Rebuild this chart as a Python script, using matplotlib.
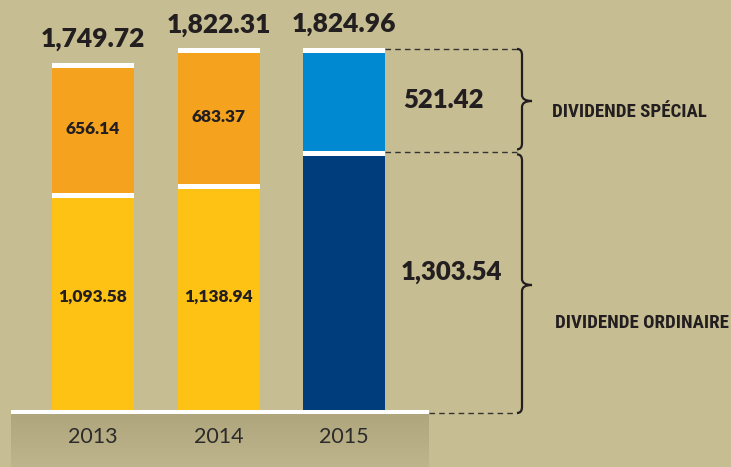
import numpy as np
import matplotlib
matplotlib.use("Agg")
import matplotlib.pyplot as plt
from matplotlib.path import Path
from matplotlib.patches import PathPatch
from matplotlib.colors import LinearSegmentedColormap
from matplotlib import font_manager

years = ["2013", "2014", "2015"]
ordinaire = [1093.58, 1138.94, 1303.54]
special = [656.14, 683.37, 521.42]
totals = [1749.72, 1822.31, 1824.96]
series_labels = ["DIVIDENDE SPÉCIAL", "DIVIDENDE ORDINAIRE"]

BG = "#c7bd92"
C_ORD = ["#fdc213", "#fdc213", "#003d7c"]
C_SPE = ["#f5a31f", "#f5a31f", "#0088d0"]
TXT = "#231f20"

names = {f.name for f in font_manager.fontManager.ttflist}
cond_font, cond_stretch, cond_size = "Roboto", "normal", 12
for cand in ["Liberation Sans Narrow", "Roboto Condensed", "DejaVu Sans Condensed"]:
    if cand in names:
        cond_font, cond_stretch, cond_size = cand, "condensed", 13.6
        break

W, H = 731, 467
fig = plt.figure(figsize=(W / 100, H / 100), dpi=100)
fig.patch.set_facecolor(BG)
ax = fig.add_axes([0, 0, 1, 1])
ax.set_facecolor(BG)
ax.axis("off")

pxx = 125.5      # px per x unit
pxy = 0.1984     # px per value unit
x0px, base_px = 93, 410
xl = (-x0px / pxx, (W - x0px) / pxx)
yl = (-(H - base_px) / pxy, base_px / pxy)

x = np.arange(len(years))
bw = 82 / pxx
stripe = 5 / pxy

ax.bar(x, ordinaire, width=bw, color=C_ORD, zorder=2)
ax.bar(x, special, bottom=ordinaire, width=bw, color=C_SPE, zorder=2)
ax.bar(x, [stripe] * 3, bottom=np.array(ordinaire) - stripe, width=bw, color="white", zorder=3)
ax.bar(x, [stripe] * 3, bottom=np.array(totals) - stripe, width=bw, color="white", zorder=3)

# bottom band
bx0, bx1 = (11 - x0px) / pxx, (429 - x0px) / pxx
ax.fill_between([bx0, bx1], -4 / pxy, 0, color="white", zorder=4, lw=0)
grad = np.linspace(0, 1, 64).reshape(-1, 1)
cm = LinearSegmentedColormap.from_list("g", ["#b0a67e", "#bfb58d"])
ax.imshow(grad, cmap=cm, extent=[bx0, bx1, yl[0], -4 / pxy],
          aspect="auto", origin="upper", zorder=1)
ax.set_xlim(*xl)
ax.set_ylim(*yl)

for xi, y in zip(x, years):
    ax.text(xi, -27 / pxy, y, ha="center", va="center", fontsize=15.5,
            family="Lato", fontweight="normal", color="#2b2b2b", zorder=5)

for xi, t in zip(x, totals):
    ax.annotate(f"{t:,.2f}", (xi, t), xytext=(0, 17), textcoords="offset points",
                ha="center", va="center", fontsize=19, fontweight="heavy",
                family="Lato", color=TXT)

for xi in x[:2]:
    ax.text(xi, 570, f"{ordinaire[xi]:,.2f}", ha="center", va="center",
            fontsize=12.5, fontweight="heavy", family="Lato", color=TXT, zorder=5)
    ax.text(xi, ordinaire[xi] + special[xi] / 2 - 5, f"{special[xi]:,.2f}",
            ha="center", va="center", fontsize=12.5, fontweight="heavy",
            family="Lato", color=TXT, zorder=5)

ax.text((443 - x0px) / pxx, ordinaire[2] + special[2] / 2, f"{special[2]:,.2f}",
        ha="center", va="center", fontsize=18.5, fontweight="heavy", family="Lato", color=TXT)
ax.text((451 - x0px) / pxx, 695, f"{ordinaire[2]:,.2f}",
        ha="center", va="center", fontsize=18.5, fontweight="heavy", family="Lato", color=TXT)

xback = (517 - x0px) / pxx
bar_r = 2 + bw / 2
dash = dict(color="#333333", lw=1, ls=(0, (4, 3)), zorder=1)
ax.plot([bar_r, xback], [totals[2] - 1 / pxy] * 2, **dash)
ax.plot([bar_r, xback], [ordinaire[2] - 1 / pxy] * 2, **dash)
ax.plot([bx1, xback], [-3 / pxy] * 2, **dash)

def brace(y_top, y_bot, ym):
    xs = (522 - x0px) / pxx
    xt = (532 - x0px) / pxx
    h = 6 / pxy
    verts = [(xback, y_top), (xs, y_top), (xs, y_top - h),
             (xs, ym + h), (xs, ym), (xt, ym),
             (xs, ym), (xs, ym - h),
             (xs, y_bot + h), (xs, y_bot), (xback, y_bot)]
    codes = [Path.MOVETO, Path.CURVE3, Path.CURVE3,
             Path.LINETO, Path.CURVE3, Path.CURVE3,
             Path.CURVE3, Path.CURVE3,
             Path.LINETO, Path.CURVE3, Path.CURVE3]
    ax.add_patch(PathPatch(Path(verts, codes), fill=False, lw=1.6, ec=TXT))

brace(totals[2] - 1 / pxy, ordinaire[2] + 2 / pxy, (410 - 101) / pxy)
brace(ordinaire[2] - 3 / pxy, -3 / pxy, (410 - 285) / pxy)

fam = [cond_font, "DejaVu Sans"]
ax.text((552 - x0px) / pxx, (410 - 112) / pxy, series_labels[0], ha="left", va="center",
        fontsize=cond_size, fontweight="bold", family=fam, fontstretch=cond_stretch, color=TXT)
ax.text((555 - x0px) / pxx, (410 - 323) / pxy, series_labels[1], ha="left", va="center",
        fontsize=cond_size, fontweight="bold", family=fam, fontstretch=cond_stretch, color=TXT)

fig.savefig("out.png", dpi=100, facecolor=BG)
